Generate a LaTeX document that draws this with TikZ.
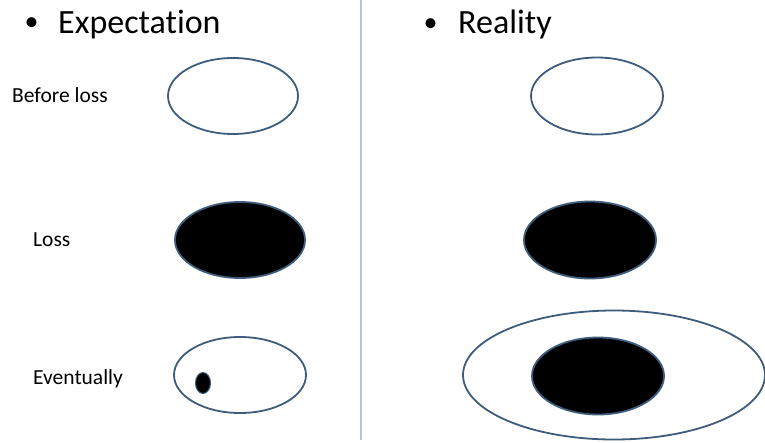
\documentclass[tikz,border=0pt]{standalone}
\usepackage{fontspec}
\setmainfont{Carlito}[Ligatures=NoCommon]
\definecolor{edge}{HTML}{3E5C7C}
\definecolor{divider}{HTML}{B8C6D4}
\tikzset{
  ring/.style={draw=edge, line width=1.8pt, fill=white},
  hole/.style={draw=edge, line width=1.8pt, fill=black},
  head/.style={anchor=base west, font=\fontsize{34}{36}\selectfont, inner sep=0pt},
  dot/.style={anchor=base, font=\fontsize{28}{30}\selectfont, inner sep=0pt},
  lab/.style={anchor=base west, font=\fontsize{21.5}{23}\selectfont, inner sep=0pt}
}
\begin{document}
\begin{tikzpicture}[x=1pt,y=-1pt]
\useasboundingbox (0,0) rectangle (765,442);
\fill[white] (0,0) rectangle (765,442);
\draw[divider, line width=1.1pt] (361,0) coordinate (dtop) -- (361,440) coordinate (dbot);
\node[dot] (bexp) at (31.5,30.5) {•};
\node[head] (hexp) at (58,33.5) {Expectation};
\node[dot] (brea) at (430.5,31) {•};
\node[head] (hrea) at (458,33.5) {Reality};
\node[lab] (lbefore) at (12,102) {Before loss};
\node[lab] (lloss) at (33,246) {Loss};
\node[lab] (levent) at (33,384) {Eventually};
\draw[ring] (233,96) ellipse (65 and 38);
\draw[ring] (597,96) ellipse (66 and 38.5);
\draw[hole] (240,240) ellipse (65 and 38);
\draw[hole] (590,240) ellipse (66 and 38.5);
\draw[ring] (240,375) ellipse (66 and 38);
\draw[hole, line width=1pt] (203,383) ellipse (7.5 and 10.5);
\draw[ring] (614,375) ellipse (151 and 64.5);
\draw[hole] (598,376) ellipse (66 and 38.5);
\end{tikzpicture}
\end{document}
